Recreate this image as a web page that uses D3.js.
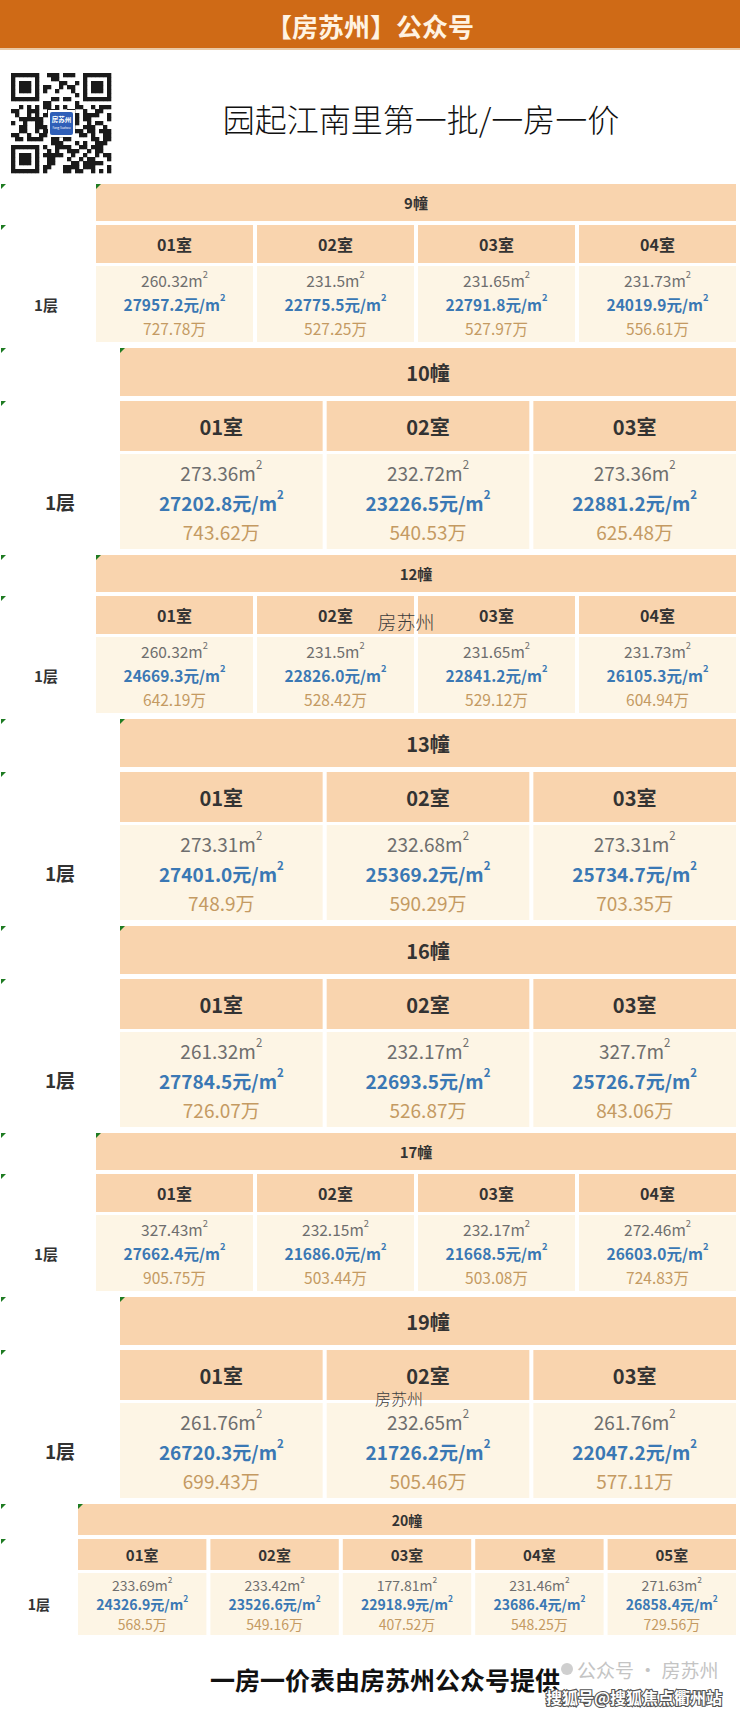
<!DOCTYPE html>
<html><head><meta charset="utf-8">
<script src="https://cdn.jsdelivr.net/npm/d3@7"></script>
<style>
html,body{margin:0;padding:0;background:#fff;}
svg{display:block;}
</style></head>
<body>
<svg id="chart" width="740" height="1711"></svg>
<script>
// ---------- data ----------
const pageTitle = "园起江南里第一批/一房一价";
const bannerText = "【房苏州】公众号";
const footerText = "一房一价表由房苏州公众号提供";
const buildings = ["9幢","10幢","12幢","13幢","16幢","17幢","19幢","20幢"];
const floorLabel = "1层";
const areas = [
  [260.32,231.5,231.65,231.73],
  [273.36,232.72,273.36],
  [260.32,231.5,231.65,231.73],
  [273.31,232.68,273.31],
  [261.32,232.17,327.7],
  [327.43,232.15,232.17,272.46],
  [261.76,232.65,261.76],
  [233.69,233.42,177.81,231.46,271.63]
];
const unitPrices = [
  [27957.2,22775.5,22791.8,24019.9],
  [27202.8,23226.5,22881.2],
  [24669.3,22826.0,22841.2,26105.3],
  [27401.0,25369.2,25734.7],
  [27784.5,22693.5,25726.7],
  [27662.4,21686.0,21668.5,26603.0],
  [26720.3,21726.2,22047.2],
  [24326.9,23526.6,22918.9,23686.4,26858.4]
];
const totals = [
  [727.78,527.25,527.97,556.61],
  [743.62,540.53,625.48],
  [642.19,528.42,529.12,604.94],
  [748.9,590.29,703.35],
  [726.07,526.87,843.06],
  [905.75,503.44,503.08,724.83],
  [699.43,505.46,577.11],
  [568.5,549.16,407.52,548.25,729.56]
];

// ---------- layout (by number of rooms) ----------
const layouts = {
  4: {x0:96,  lblX:46, hH:37, g1:4, rH:38, g2:3, dH:76, fH:15, fR:16, fD:15.5, fL:15},
  3: {x0:120, lblX:60, hH:48, g1:5, rH:50, g2:3, dH:95, fH:20, fR:20, fD:19,   fL:19},
  5: {x0:78,  lblX:39, hH:31, g1:4, rH:31, g2:3, dH:62, fH:14, fR:15, fD:14,   fL:14}
};
const xRight = 736, startY = 184, blockGap = 6;
const C = {
  banner:"#CF6A16", bannerText:"#FFF3E2", head:"#F9D4AE", cell:"#FDF5E5",
  dark:"#333333", area:"#6E6E6E", price:"#3A78B4", total:"#C49A62", green:"#1E7B22"
};
const FONT = "'Noto Sans CJK SC','Noto Sans',sans-serif";
const fmtPrice = d3.format(".1f");

const svg = d3.select("#chart").style("font-family", FONT);

// ---------- banner ----------
svg.append("rect").attr("x",0).attr("y",0).attr("width",740).attr("height",48).attr("fill",C.banner);
svg.append("rect").attr("x",0).attr("y",48).attr("width",740).attr("height",2).attr("fill","#E9C9A6");
svg.append("text").attr("x",370).attr("y",25).attr("text-anchor","middle").attr("dominant-baseline","central")
  .attr("fill",C.bannerText).attr("font-size",26).attr("font-weight","bold").text(bannerText);

// ---------- QR code (decorative) ----------
(function(){
  const qx=11, qy=73, qs=100, n=25, m=qs/n;
  const g = svg.append("g");
  g.append("rect").attr("x",qx).attr("y",qy).attr("width",qs).attr("height",qs).attr("fill","#fff");
  const seed = pageTitle + bannerText + footerText;
  const cells=[];
  for(let r=0;r<n;r++)for(let c=0;c<n;c++){
    const inF=(rr,cc)=>rr>=0&&rr<7&&cc>=0&&cc<7;
    const f = inF(r,c)||inF(r,c-(n-7))||inF(r-(n-7),c);
    if(f){
      const lr = r<7?r:r-(n-7), lc = c<7?c:c-(n-7);
      const ring = Math.min(lr,lc,6-lr,6-lc);
      if(ring!==1) cells.push([r,c]);
      continue;
    }
    if((r<8&&c<8)||(r<8&&c>=n-8)||(r>=n-8&&c<8)) continue;
    const code = seed.charCodeAt((r*7+c*13)%seed.length);
    if(((code>>((r+c*3)%9))^(r*c))&1) cells.push([r,c]);
  }
  g.selectAll("rect.q").data(cells).join("rect").attr("class","q")
    .attr("x",d=>qx+d[1]*m).attr("y",d=>qy+d[0]*m).attr("width",m+0.3).attr("height",m+0.3).attr("fill","#1a1a1a");
  g.append("rect").attr("x",qx+37).attr("y",qy+37).attr("width",27).attr("height",27).attr("fill","#fff");
  g.append("rect").attr("x",qx+39).attr("y",qy+39).attr("width",23).attr("height",23).attr("fill","#2F5FB8").attr("rx",2);
  g.append("text").attr("x",qx+50.5).attr("y",qy+49).attr("text-anchor","middle").attr("font-size",6.5)
    .attr("font-weight","bold").attr("fill","#fff").text("房苏州");
  g.append("text").attr("x",qx+50.5).attr("y",qy+56).attr("text-anchor","middle").attr("font-size",3)
    .attr("fill","#fff").text("Fang Suzhou");
})();

// ---------- title ----------
svg.append("text").attr("x",421).attr("y",118).attr("text-anchor","middle").attr("dominant-baseline","central")
  .attr("font-size",32).attr("font-weight",300).attr("fill","#111").text(pageTitle);

// ---------- green corner marks ----------
function mark(x,y){
  svg.append("path").attr("d",`M${x},${y}L${x+5},${y}L${x},${y+5}Z`).attr("fill",C.green);
}

// ---------- tables ----------
let y = startY;
function supText(sel, main, size, color, weight){
  const t = sel.append("text").attr("text-anchor","middle").attr("dominant-baseline","central")
    .attr("font-size",size).attr("fill",color).attr("font-weight",weight);
  t.append("tspan").text(main);
  t.append("tspan").attr("font-size",size*0.6).attr("dy",-size*0.42).text("2");
  return t;
}
buildings.forEach((b,i)=>{
  const n = areas[i].length, L = layouts[n];
  const x = d3.scaleBand().domain(d3.range(n)).range([L.x0,xRight]).paddingInner(4/((xRight-L.x0)/n));
  const yHead = y, yRoom = y+L.hH+L.g1, yData = yRoom+L.rH+L.g2;
  const g = svg.append("g");
  // building header
  g.append("rect").attr("x",L.x0).attr("y",yHead).attr("width",xRight-L.x0).attr("height",L.hH).attr("fill",C.head);
  g.append("text").attr("x",(L.x0+xRight)/2).attr("y",yHead+L.hH/2).attr("text-anchor","middle").attr("dominant-baseline","central")
    .attr("font-size",L.fH).attr("font-weight","bold").attr("fill",C.dark).text(b);
  // rooms
  const cols = d3.range(n);
  g.selectAll("rect.room").data(cols).join("rect").attr("class","room")
    .attr("x",d=>x(d)).attr("y",yRoom).attr("width",x.bandwidth()).attr("height",L.rH).attr("fill",C.head);
  g.selectAll("text.room").data(cols).join("text").attr("class","room")
    .attr("x",d=>x(d)+x.bandwidth()/2).attr("y",yRoom+L.rH/2).attr("text-anchor","middle").attr("dominant-baseline","central")
    .attr("font-size",L.fR).attr("font-weight","bold").attr("fill",C.dark).text(d=>"0"+(d+1)+"室");
  // data cells
  g.selectAll("rect.cell").data(cols).join("rect").attr("class","cell")
    .attr("x",d=>x(d)).attr("y",yData).attr("width",x.bandwidth()).attr("height",L.dH).attr("fill",C.cell);
  cols.forEach(d=>{
    const cx = x(d)+x.bandwidth()/2;
    supText(g, areas[i][d]+"m", L.fD, C.area, "normal").attr("x",cx).attr("y",yData+L.dH*0.19);
    supText(g, fmtPrice(unitPrices[i][d])+"元/m", L.fD, C.price, "bold").attr("x",cx).attr("y",yData+L.dH*0.5);
    g.append("text").attr("x",cx).attr("y",yData+L.dH*0.82).attr("text-anchor","middle").attr("dominant-baseline","central")
      .attr("font-size",L.fD).attr("fill",C.total).text(totals[i][d]+"万");
  });
  // floor label
  g.append("text").attr("x",L.lblX).attr("y",yData+L.dH*0.5).attr("text-anchor","middle").attr("dominant-baseline","central")
    .attr("font-size",L.fL).attr("font-weight","bold").attr("fill",C.dark).text(floorLabel);
  mark(1,yHead); mark(L.x0,yHead); mark(1,yRoom);
  y = yData + L.dH + blockGap;
});

// ---------- watermarks ----------
[[406,621,19],[399,1398,16]].forEach(p=>{
  svg.append("text").attr("x",p[0]).attr("y",p[1]).attr("text-anchor","middle").attr("dominant-baseline","central")
    .attr("font-size",p[2]).attr("font-weight",300).attr("fill","#3d3d3d").text("房苏州");
});

// ---------- footer ----------
svg.append("text").attr("x",385).attr("y",1679).attr("text-anchor","middle").attr("dominant-baseline","central")
  .attr("font-size",25).attr("font-weight","bold").attr("fill","#111").text(footerText);
svg.append("circle").attr("cx",567).attr("cy",1669).attr("r",6).attr("fill","#cfcfcf");
svg.append("text").attr("x",577).attr("y",1669).attr("dominant-baseline","central")
  .attr("font-size",19).attr("fill","#c4c4c4").text("公众号 · 房苏州");
svg.append("text").attr("x",722).attr("y",1697).attr("text-anchor","end").attr("dominant-baseline","central")
  .attr("font-size",16).attr("font-weight","bold").attr("fill","#fff").attr("stroke","#555").attr("stroke-width",2.2)
  .attr("paint-order","stroke").text("搜狐号@搜狐焦点衢州站");
</script>
</body></html>
